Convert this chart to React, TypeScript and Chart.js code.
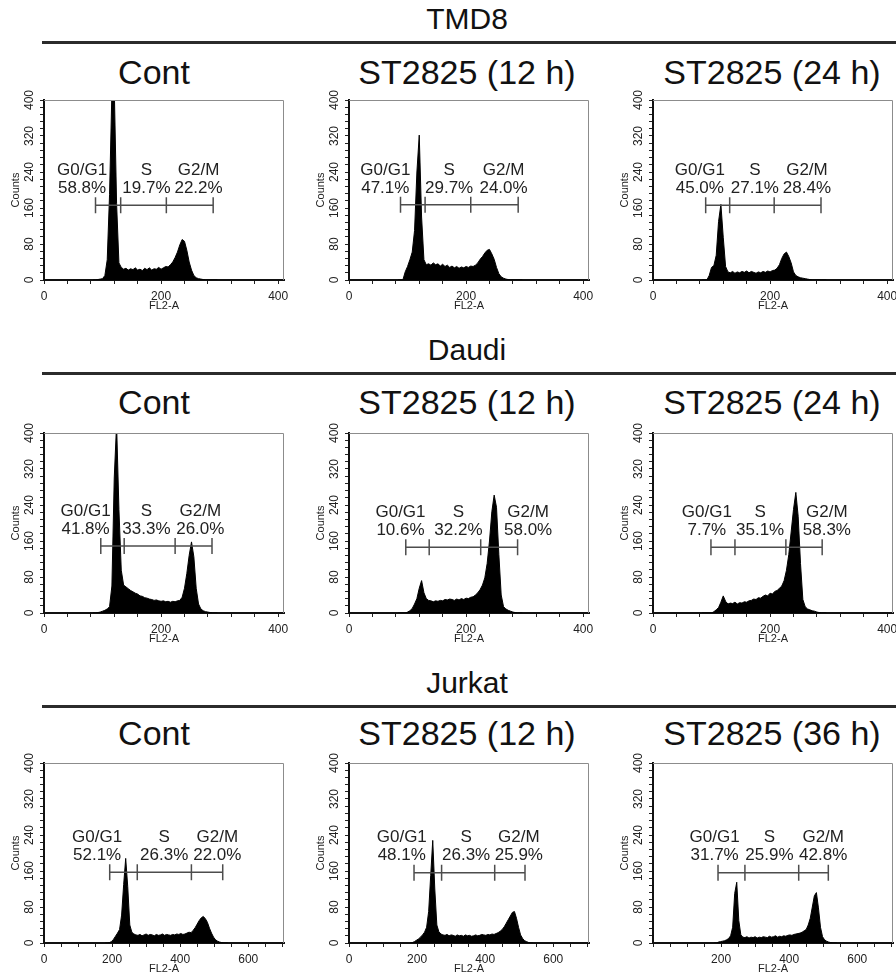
import React, { useEffect, useRef } from 'react';
import { Chart, registerables } from 'chart.js';

Chart.register(...registerables);

const FONT = '"Liberation Sans", Arial, Helvetica, sans-serif';
Chart.defaults.font.family = FONT;

// ---------- DATA ----------
const GROUPS = ['TMD8', 'Daudi', 'Jurkat'];
const CONDITIONS = [
  ['Cont', 'ST2825 (12 h)', 'ST2825 (24 h)'],
  ['Cont', 'ST2825 (12 h)', 'ST2825 (24 h)'],
  ['Cont', 'ST2825 (12 h)', 'ST2825 (36 h)'],
];
const PHASES = ['G0/G1', 'S', 'G2/M'];

// FL2-A channel bins
const binsNarrow = [84, 88, 92, 96, 100, 104, 108, 112, 116, 120, 124, 128, 132, 136, 140, 144, 148, 152, 156, 160,
  164, 168, 172, 176, 180, 184, 188, 192, 196, 200, 204, 208, 212, 216, 220, 224, 228, 232, 236, 240,
  244, 248, 252, 256, 260, 264, 268, 272, 276, 280, 284, 288, 292, 296];
const binsWide = [180, 186, 192, 198, 204, 210, 216, 222, 228, 234, 240, 246, 252, 258, 264, 270, 276, 282, 288, 294,
  300, 306, 312, 318, 324, 330, 336, 342, 348, 354, 360, 366, 372, 378, 384, 390, 396, 402, 408, 414,
  420, 426, 432, 438, 444, 450, 456, 462, 468, 474, 480, 486, 492, 498, 504, 510, 516, 522, 528, 534, 540];

// Counts (TMD8)
const tmd8Cont = [0, 0, 1, 2, 3, 10, 45, 190, 420, 430,
  170, 38, 28, 24, 26, 22, 25, 23, 27, 22,
  24, 21, 26, 23, 27, 22, 25, 24, 28, 24,
  27, 30, 29, 34, 40, 50, 62, 78, 90, 86,
  66, 40, 22, 10, 5, 3, 2, 1, 0, 0,
  0, 0, 0, 0];
const tmd8H12 = [0, 0, 0, 18, 30, 45, 62, 110, 240, 322,
  140, 45, 34, 36, 33, 38, 34, 36, 31, 35,
  30, 33, 28, 31, 27, 30, 26, 29, 27, 30,
  28, 31, 30, 33, 38, 46, 52, 60, 66, 68,
  58, 46, 28, 14, 7, 4, 2, 1, 0, 0,
  0, 0, 0, 0];
const tmd8H24 = [0, 0, 0, 10, 28, 32, 55, 130, 168, 95,
  30, 18, 16, 19, 15, 18, 16, 19, 17, 20,
  16, 19, 17, 15, 18, 16, 19, 17, 20, 18,
  21, 22, 26, 34, 48, 58, 62, 52, 38, 18,
  10, 7, 5, 4, 3, 2, 1, 0, 0, 0,
  0, 0, 0, 0];
// Counts (Daudi)
const daudiCont = [0, 0, 1, 2, 4, 6, 9, 14, 60, 300,
  420, 230, 95, 62, 58, 54, 50, 47, 44, 42,
  38, 37, 34, 33, 31, 30, 28, 29, 27, 26,
  27, 25, 26, 24, 26, 25, 27, 28, 35, 55,
  88, 128, 158, 125, 55, 20, 9, 5, 3, 2,
  1, 0, 0, 0];
const daudiH12 = [0, 0, 0, 0, 2, 5, 10, 20, 32, 55,
  72, 45, 32, 28, 27, 25, 27, 26, 28, 27,
  30, 29, 31, 30, 28, 31, 29, 32, 30, 33,
  32, 35, 36, 40, 45, 52, 62, 78, 110, 160,
  225, 262, 235, 130, 40, 14, 9, 6, 4, 2,
  1, 0, 0, 0];
const daudiH24 = [0, 0, 0, 0, 0, 3, 7, 12, 24, 38,
  26, 20, 22, 21, 24, 20, 23, 22, 25, 24,
  27, 28, 31, 30, 34, 33, 37, 40, 38, 44,
  42, 48, 50, 55, 60, 72, 95, 130, 180, 230,
  268, 215, 110, 30, 14, 9, 7, 5, 4, 2,
  1, 0, 0, 0];
// Counts (Jurkat)
const jurkatCont = [0, 0, 1, 3, 8, 15, 22, 30, 62, 130,
  188, 125, 40, 24, 20, 18, 17, 19, 16, 18,
  20, 17, 19, 18, 16, 19, 17, 18, 20, 17,
  19, 18, 17, 19, 18, 20, 19, 21, 19, 20,
  22, 24, 23, 28, 34, 42, 50, 56, 59, 54,
  46, 33, 22, 13, 7, 4, 2, 1, 0, 0,
  0];
const jurkatH12 = [0, 1, 3, 6, 9, 13, 18, 24, 35, 70,
  150, 228, 120, 40, 25, 20, 18, 17, 19, 16,
  18, 17, 15, 18, 16, 17, 15, 18, 16, 17,
  15, 16, 18, 16, 17, 19, 18, 17, 19, 18,
  20, 19, 21, 23, 26, 30, 36, 44, 52, 60,
  68, 70, 55, 35, 18, 10, 5, 3, 1, 0,
  0];
const jurkatH36 = [0, 0, 2, 3, 4, 5, 7, 10, 16, 35,
  110, 135, 50, 18, 13, 12, 14, 11, 13, 12,
  14, 11, 13, 12, 14, 13, 12, 15, 13, 14,
  16, 13, 15, 14, 16, 15, 17, 18, 17, 19,
  20, 21, 22, 24, 27, 30, 40, 55, 80, 105,
  112, 78, 35, 14, 7, 4, 2, 1, 0, 0,
  0];

// Gate boundaries (FL2-A) and gate bar level (Counts)
const gatesTmd8 = [[88, 131, 209, 289], [88, 130, 208, 289], [90, 131, 207, 287]];
const gatesDaudi = [[97, 137, 224, 287], [97, 137, 225, 288], [99, 140, 227, 289]];
const gatesJurkat = [[193, 274, 433, 525], [191, 272, 428, 517], [191, 270, 428, 515]];
const gateLevel = [[166, 167, 166], [149, 146, 146], [157, 156, 156]];

// Phase label anchors (FL2-A)
const labelAnchorTmd8 = [[65, 175, 264], [62, 171, 264], [80, 174, 263]];
const labelAnchorDaudi = [[71, 175, 267], [88, 187, 306], [92, 183, 297]];
const labelAnchorJurkat = [[156, 353, 509], [155, 344, 499], [181, 342, 500]];

// Phase percentages
const pctTmd8 = [['58.8%', '19.7%', '22.2%'], ['47.1%', '29.7%', '24.0%'], ['45.0%', '27.1%', '28.4%']];
const pctDaudi = [['41.8%', '33.3%', '26.0%'], ['10.6%', '32.2%', '58.0%'], ['7.7%', '35.1%', '58.3%']];
const pctJurkat = [['52.1%', '26.3%', '22.0%'], ['48.1%', '26.3%', '25.9%'], ['31.7%', '25.9%', '42.8%']];

// Axis ranges and ticks
const xMaxRows = [410, 410, 705];
const xMinorStepRows = [40, 40, 50];
const xLabelStep = 200;
const yMax = 400;
const yMinorStep = 16;
const yLabelStep = 80;

// ---------- LAYOUT ----------
const COL_LEFT = [44, 349, 653];
const ROW_TOP = [100, 433, 763];
const Y_AXIS_W = 44;
const X_AXIS_H = 36;
const PAD_TOP = 12;
const PAD_RIGHT = 16;
const PLOT_W = 240;
const PLOT_H = 180;
const CANVAS_W = Y_AXIS_W + PLOT_W + PAD_RIGHT;
const CANVAS_H = PAD_TOP + PLOT_H + X_AXIS_H;

const GROUP_CY = [19, 350, 683];
const GROUP_LINE_Y = [42, 373, 706];
const SUB_CY = [72, 402, 733];
const SUB_CX = [154, 467, 772];

type PanelDef = {
  bins: number[];
  counts: number[];
  gates: number[];
  level: number;
  anchors: number[];
  pcts: string[];
  xMax: number;
  xStep: number;
  hideZero: boolean;
};

const countsRows = [[tmd8Cont, tmd8H12, tmd8H24], [daudiCont, daudiH12, daudiH24], [jurkatCont, jurkatH12, jurkatH36]];
const gatesRows = [gatesTmd8, gatesDaudi, gatesJurkat];
const anchorsRows = [labelAnchorTmd8, labelAnchorDaudi, labelAnchorJurkat];
const pctRows = [pctTmd8, pctDaudi, pctJurkat];
const binsRows = [binsNarrow, binsNarrow, binsWide];

const PANELS: PanelDef[][] = countsRows.map((row, r) =>
  row.map((counts, c) => ({
    bins: binsRows[r],
    counts,
    gates: gatesRows[r][c],
    level: gateLevel[r][c],
    anchors: anchorsRows[r][c],
    pcts: pctRows[r][c],
    xMax: xMaxRows[r],
    xStep: xMinorStepRows[r],
    hideZero: r === 2 && c === 2,
  }))
);

function makeOverlay(p: PanelDef) {
  return {
    id: 'gateOverlay',
    afterDatasetsDraw(chart: any) {
      const { ctx, chartArea: a, scales } = chart;
      const x = scales.x;
      const y = scales.y;
      ctx.save();
      // frame top / right
      ctx.strokeStyle = '#8c8c8c';
      ctx.lineWidth = 1;
      ctx.beginPath();
      ctx.moveTo(a.left, a.top + 0.5);
      ctx.lineTo(a.right - 0.5, a.top + 0.5);
      ctx.lineTo(a.right - 0.5, a.bottom);
      ctx.stroke();
      // gate bar
      const my = y.getPixelForValue(p.level);
      const xs = p.gates.map((v) => x.getPixelForValue(v));
      ctx.strokeStyle = '#4d4d4d';
      ctx.lineWidth = 1.5;
      ctx.beginPath();
      ctx.moveTo(xs[0], my);
      ctx.lineTo(xs[xs.length - 1], my);
      xs.forEach((px) => {
        ctx.moveTo(px, my - 8);
        ctx.lineTo(px, my + 8);
      });
      ctx.stroke();
      // labels
      ctx.fillStyle = '#222';
      ctx.font = `17px ${FONT}`;
      ctx.textAlign = 'center';
      ctx.textBaseline = 'middle';
      p.anchors.forEach((v, i) => {
        const px = x.getPixelForValue(v);
        ctx.fillText(PHASES[i], px, my - 35);
        ctx.fillText(p.pcts[i], px, my - 17);
      });
      ctx.restore();
    },
  };
}

function HistogramPanel({ panel, left, top }: { panel: PanelDef; left: number; top: number }) {
  const ref = useRef<HTMLCanvasElement>(null);
  useEffect(() => {
    const canvas = ref.current;
    if (!canvas) return;
    const chart = new Chart(canvas, {
      type: 'line',
      data: {
        datasets: [
          {
            data: panel.bins.map((b, i) => ({ x: b, y: panel.counts[i] })),
            borderColor: '#000',
            backgroundColor: '#000',
            borderWidth: 1,
            fill: 'origin',
            pointRadius: 0,
            tension: 0,
          },
        ],
      },
      options: {
        responsive: false,
        animation: false,
        devicePixelRatio: 1,
        layout: { padding: { left: 0, right: PAD_RIGHT, top: PAD_TOP, bottom: 0 } },
        plugins: { legend: { display: false }, tooltip: { enabled: false } },
        scales: {
          x: {
            type: 'linear',
            min: 0,
            max: panel.xMax,
            afterFit: (s: any) => {
              s.height = X_AXIS_H;
            },
            border: { display: true, color: '#111', width: 2 },
            grid: { drawOnChartArea: false, drawTicks: true, tickLength: 4, tickColor: '#222', tickWidth: 1 },
            ticks: {
              stepSize: panel.xStep,
              includeBounds: false,
              autoSkip: false,
              minRotation: 0,
              maxRotation: 0,
              padding: 5,
              color: '#222',
              font: { size: 12 },
              callback: (v: any) => {
                const n = Number(v);
                if (n % xLabelStep !== 0) return '';
                if (panel.hideZero && n === 0) return '';
                return String(n);
              },
            },
            title: { display: true, text: 'FL2-A', color: '#222', font: { size: 11 }, padding: { top: 0, bottom: 3 } },
          },
          y: {
            type: 'linear',
            min: 0,
            max: yMax,
            afterFit: (s: any) => {
              s.width = Y_AXIS_W;
            },
            border: { display: true, color: '#111', width: 2 },
            grid: { drawOnChartArea: false, drawTicks: true, tickLength: 4, tickColor: '#222', tickWidth: 1 },
            ticks: {
              stepSize: yMinorStep,
              includeBounds: false,
              autoSkip: false,
              minRotation: 90,
              maxRotation: 90,
              crossAlign: 'center',
              padding: 0,
              color: '#222',
              font: { size: 12 },
              callback: (v: any) => (Number(v) % yLabelStep === 0 ? String(v) : ''),
            },
            title: { display: true, text: 'Counts', color: '#222', font: { size: 11 }, padding: { top: 9, bottom: 0 } },
          },
        },
      } as any,
      plugins: [makeOverlay(panel)],
    });
    return () => chart.destroy();
  }, [panel]);
  return (
    <canvas
      ref={ref}
      width={CANVAS_W}
      height={CANVAS_H}
      style={{ position: 'absolute', left, top, width: CANVAS_W, height: CANVAS_H }}
    />
  );
}

export default function App() {
  return (
    <div
      style={{
        position: 'absolute',
        left: 0,
        top: 0,
        width: 896,
        height: 979,
        overflow: 'hidden',
        background: '#fff',
        fontFamily: FONT,
        color: '#111',
      }}
    >
      {GROUPS.map((g, r) => (
        <React.Fragment key={g}>
          <div
            style={{
              position: 'absolute',
              left: 267,
              width: 400,
              top: GROUP_CY[r] - 20,
              height: 40,
              lineHeight: '40px',
              textAlign: 'center',
              fontSize: 30,
              whiteSpace: 'nowrap',
            }}
          >
            {g}
          </div>
          <div
            style={{
              position: 'absolute',
              left: 42,
              width: 854,
              top: GROUP_LINE_Y[r] - 1.5,
              height: 3,
              background: '#2b2b2b',
            }}
          />
          {CONDITIONS[r].map((t, c) => (
            <div
              key={t + c}
              style={{
                position: 'absolute',
                left: SUB_CX[c] - 200,
                width: 400,
                top: SUB_CY[r] - 20,
                height: 40,
                lineHeight: '40px',
                textAlign: 'center',
                fontSize: 34,
                whiteSpace: 'nowrap',
              }}
            >
              {t}
            </div>
          ))}
          {PANELS[r].map((p, c) => (
            <HistogramPanel
              key={'p' + r + c}
              panel={p}
              left={COL_LEFT[c] - Y_AXIS_W}
              top={ROW_TOP[r] - PAD_TOP}
            />
          ))}
        </React.Fragment>
      ))}
    </div>
  );
}
